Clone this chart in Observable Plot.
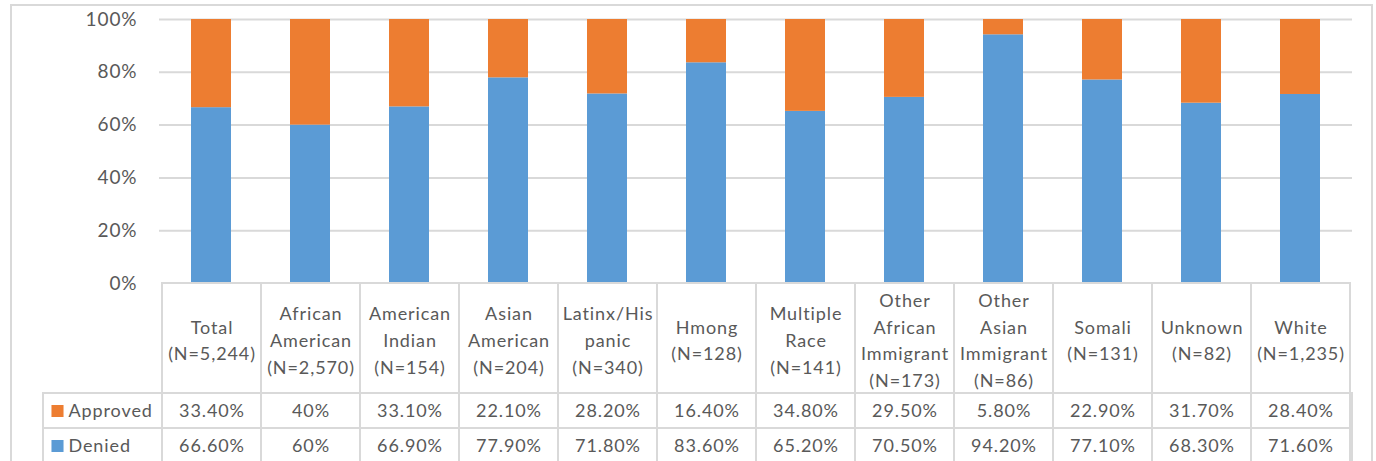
<!DOCTYPE html>
<html>
<head>
<meta charset="utf-8">
<script src="https://cdn.jsdelivr.net/npm/d3@7"></script>
<script src="https://cdn.jsdelivr.net/npm/@observablehq/plot@0.6"></script>
<style>
  html, body { margin: 0; padding: 0; background: #fff; overflow: hidden; }
  #wrap { position: relative; width: 1376px; height: 461px; overflow: hidden; }
  #frame { position: absolute; left: 10px; top: 4px; width: 1359px; height: 520px; border: 2px solid #d9d9d9; }
  .layer { position: absolute; left: 0; }
</style>
</head>
<body>
<div id="wrap">
  <div id="frame"></div>
  <div id="chart" class="layer" style="top:0px"></div>
  <div id="head" class="layer" style="top:281px"></div>
  <div id="rows" class="layer" style="top:391px"></div>
</div>
<script>
// Groups (one column each) and their wrapped header text
const categories = ["Total", "African American", "American Indian", "Asian American", "Latinx/Hispanic", "Hmong",
  "Multiple Race", "Other African Immigrant", "Other Asian Immigrant", "Somali", "Unknown", "White"];
const headerLabels = [
  "Total\n(N=5,244)",
  "African\nAmerican\n(N=2,570)",
  "American\nIndian\n(N=154)",
  "Asian\nAmerican\n(N=204)",
  "Latinx/His\npanic\n(N=340)",
  "Hmong\n(N=128)",
  "Multiple\nRace\n(N=141)",
  "Other\nAfrican\nImmigrant\n(N=173)",
  "Other\nAsian\nImmigrant\n(N=86)",
  "Somali\n(N=131)",
  "Unknown\n(N=82)",
  "White\n(N=1,235)"
];

// Percent of applications per group
const approved = [33.4, 40, 33.1, 22.1, 28.2, 16.4, 34.8, 29.5, 5.8, 22.9, 31.7, 28.4];
const denied   = [66.6, 60, 66.9, 77.9, 71.8, 83.6, 65.2, 70.5, 94.2, 77.1, 68.3, 71.6];

const series = ["Approved", "Denied"];
const seriesColors = ["#ed7d31", "#5b9bd5"];
const yTicks = [0, 20, 40, 60, 80, 100];

// Long table: denied first so it stacks at the bottom
const records = categories.flatMap((c, i) => [
  {category: c, status: "Denied", value: denied[i]},
  {category: c, status: "Approved", value: approved[i]}
]);

const fmtPct = v => Number.isInteger(v) ? `${v}%` : `${v.toFixed(2)}%`;

const W = 1376, ML = 159, MR = 24;
const grid = "#d9d9d9";
const textColor = "#595959";
const baseStyle = {
  fontFamily: "Lato, 'Open Sans', sans-serif", fontSize: "18px", letterSpacing: "0.9px",
  color: textColor, background: "none", overflow: "visible"
};
const color = {domain: series, range: seriesColors};

// Stacked 100% columns
const chart = Plot.plot({
  width: W, height: 290,
  marginLeft: ML, marginRight: MR, marginTop: 19, marginBottom: 7,
  style: baseStyle,
  x: {domain: categories, paddingInner: 0.6, paddingOuter: 0.3, axis: null},
  y: {domain: [0, 100], label: null},
  color,
  marks: [
    Plot.gridY(yTicks.slice(1), {stroke: grid, strokeOpacity: 1, strokeWidth: 2}),
    Plot.barY(records, {x: "category", y: "value", fill: "status"}),
    Plot.axisY(yTicks, {label: null, tickSize: 0, tickPadding: 22, tickFormat: d => `${d}%`, fill: textColor, fontSize: 19})
  ]
});
document.getElementById("chart").append(chart);

// Data table header: one cell per group
const head = Plot.plot({
  width: W, height: 114,
  marginLeft: ML, marginRight: MR, marginTop: 2, marginBottom: 2,
  style: baseStyle,
  x: {domain: categories, padding: 0, axis: null},
  marks: [
    Plot.cell(categories, {x: d => d, fill: "none", stroke: grid, strokeWidth: 2}),
    Plot.text(categories, {x: d => d, text: (d, i) => headerLabels[i], lineHeight: 1.48, fill: textColor, fontSize: 18})
  ]
});
document.getElementById("head").append(head);

// Data table value rows with legend keys on the left
const rows = Plot.plot({
  width: W, height: 74,
  marginLeft: ML, marginRight: MR, marginTop: 2, marginBottom: 2,
  style: baseStyle,
  x: {domain: categories, padding: 0, axis: null},
  y: {domain: series, padding: 0, axis: null},
  color,
  marks: [
    Plot.cell(series, {y: d => d, fill: "none", stroke: grid, strokeWidth: 2, insetLeft: -116}),
    Plot.cell(records, {x: "category", y: "status", fill: "none", stroke: grid, strokeWidth: 2}),
    Plot.text(records, {x: "category", y: "status", text: d => fmtPct(d.value), fill: textColor, fontSize: 18}),
    Plot.dot(series, {y: d => d, frameAnchor: "left", dx: -102, symbol: "square", r: 6.8, fill: d => d, stroke: null}),
    Plot.text(series, {y: d => d, frameAnchor: "left", dx: -91, textAnchor: "start", text: d => d, fill: textColor, fontSize: 18})
  ]
});
document.getElementById("rows").append(rows);
</script>
</body>
</html>
